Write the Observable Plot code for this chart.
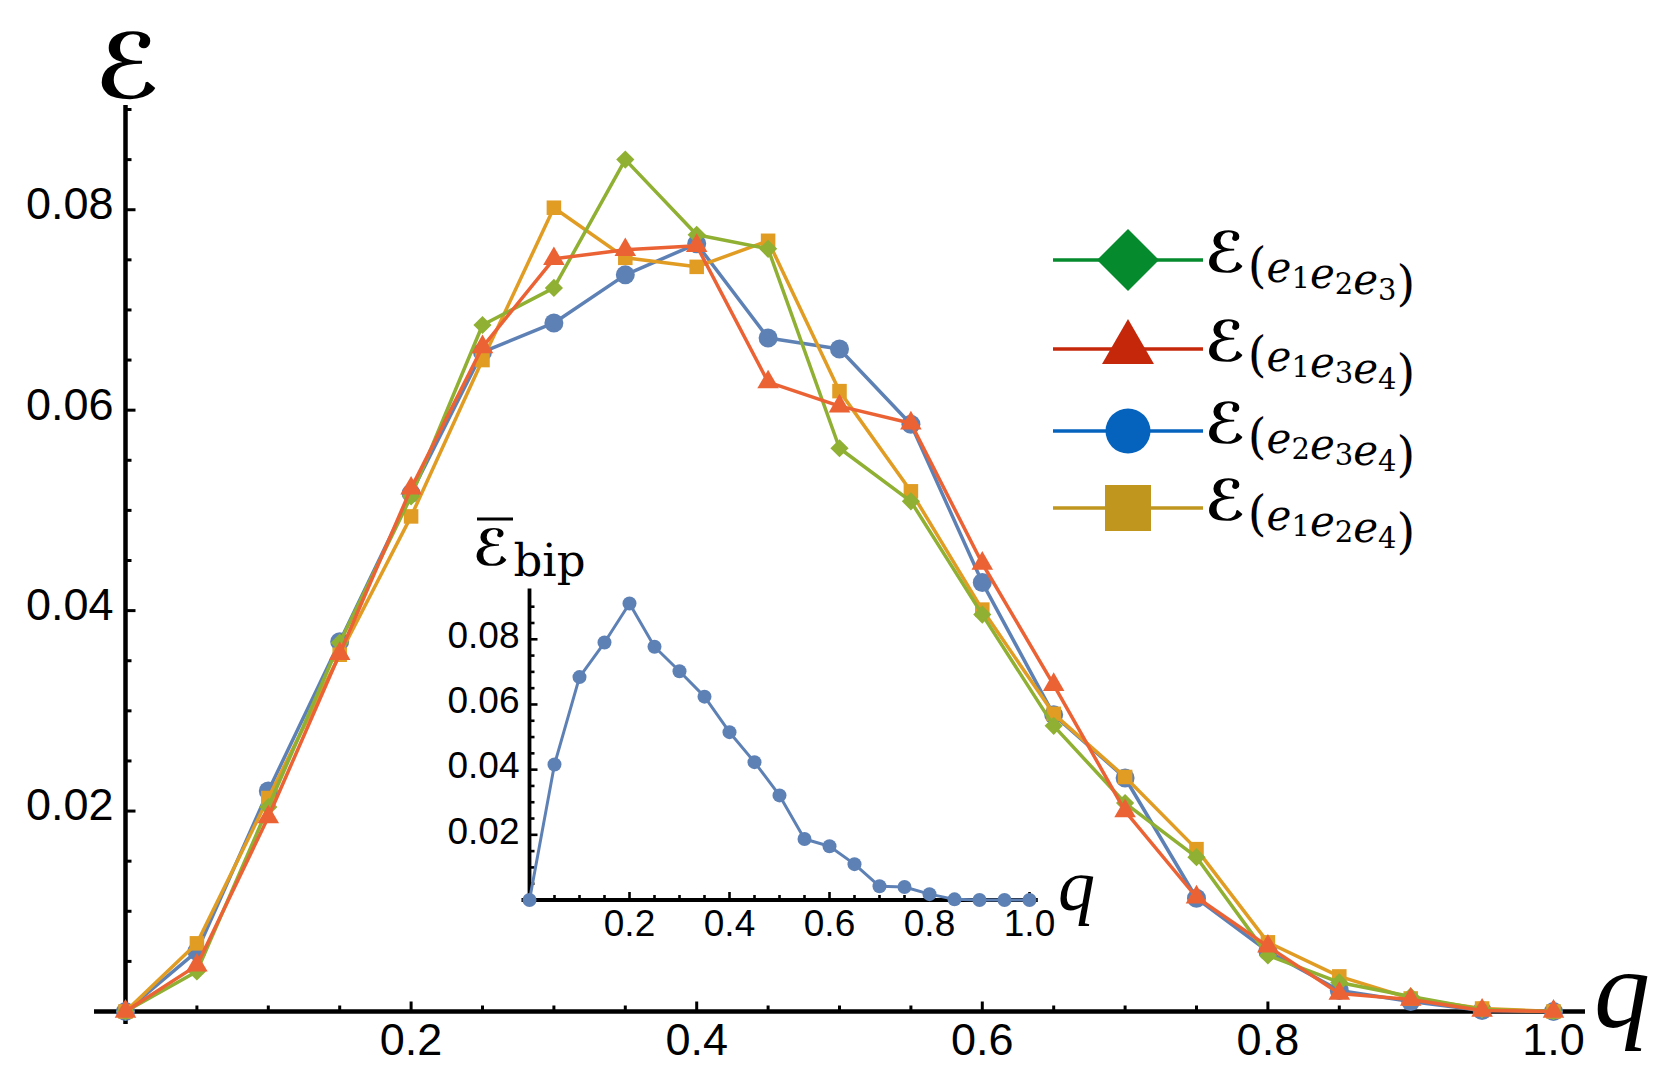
<!DOCTYPE html>
<html><head><meta charset="utf-8">
<script src="https://cdn.jsdelivr.net/npm/d3@7"></script>
<script src="https://cdn.jsdelivr.net/npm/@observablehq/plot@0.6"></script>
<style>
body{margin:0;background:#fff;}
#wrap{position:relative;width:1669px;height:1079px;overflow:hidden;background:#fff;}
#inset{position:absolute;left:400px;top:490px;}
</style></head><body><div id="wrap"><div id="main"></div><div id="inset"></div></div>
<script>
// ---------- data ----------
const qValues = [0,0.05,0.1,0.15,0.2,0.25,0.3,0.35,0.4,0.45,0.5,0.55,0.6,0.65,0.7,0.75,0.8,0.85,0.9,0.95,1.0];
const e123 = [0,0.0040,0.0204,0.0368,0.0514,0.0685,0.0722,0.0850,0.0775,0.0761,0.0562,0.0509,0.0396,0.0285,0.0208,0.0154,0.0056,0.0029,0.0015,0.0002,0];
const e134 = [0,0.0046,0.0194,0.0357,0.0522,0.0663,0.0751,0.0760,0.0764,0.0628,0.0604,0.0587,0.0447,0.0326,0.0200,0.0114,0.0065,0.0018,0.0012,0.0001,0];
const e234 = [0,0.0060,0.0220,0.0369,0.0517,0.0658,0.0687,0.0735,0.0766,0.0672,0.0661,0.0586,0.0428,0.0296,0.0233,0.0113,0.0060,0.0021,0.0010,0.0001,0];
const e124 = [0,0.0068,0.0213,0.0356,0.0494,0.0650,0.0802,0.0752,0.0743,0.0769,0.0619,0.0519,0.0401,0.0297,0.0234,0.0162,0.0069,0.0035,0.0013,0.0003,0];
const bip  = [0,0.0416,0.0684,0.0790,0.0910,0.0777,0.0702,0.0624,0.0515,0.0423,0.0321,0.0187,0.0165,0.0110,0.0042,0.0040,0.0018,0.0002,0,0,0];

const xMajor = [0.2,0.4,0.6,0.8,1.0];
const xMinor = [0.05,0.1,0.15,0.25,0.3,0.35,0.45,0.5,0.55,0.65,0.7,0.75,0.85,0.9,0.95];
const yMajor = [0.02,0.04,0.06,0.08];
const yMinor = [0.005,0.01,0.015,0.025,0.03,0.035,0.045,0.05,0.055,0.065,0.07,0.075,0.085,0.09];
const insetYMinor = [0.005,0.01,0.015,0.025,0.03,0.035,0.045,0.05,0.055,0.065,0.07,0.075,0.085,0.09];

// axis extents (data units)
const mainX = [-0.0217, 1.0224], mainY = [-0.0013, 0.0904];
const insX = [-0.015, 1.0176], insY = [-0.0016, 0.0954];

// ---------- styling ----------
const series = [
  {key:"e234", values:e234, color:"#5E81B5", symbol:"circle",   r:9.5},
  {key:"e124", values:e124, color:"#E19C24", symbol:"square",   r:8.2},
  {key:"e123", values:e123, color:"#8FB032", symbol:"diamond2", r:8.2},
  {key:"e134", values:e134, color:"#EB6235", symbol:"triangle", r:8}
];
const legendItems = [
  {sub:["1","2","3"], color:"#058A2E", sym:d3.symbolDiamond2, size:2450},
  {sub:["1","3","4"], color:"#C4270A", sym:d3.symbolTriangle, size:1169},
  {sub:["2","3","4"], color:"#0563BE", sym:d3.symbolCircle,   size:1590},
  {sub:["1","2","4"], color:"#C1961E", sym:d3.symbolSquare,   size:2116}
];
const legendY = [260, 349, 431, 508];

const tickUp = {draw(ctx, size){const l=Math.sqrt(size/Math.PI); ctx.moveTo(0,0); ctx.lineTo(0,-l);}};
const tickRight = {draw(ctx, size){const l=Math.sqrt(size/Math.PI); ctx.moveTo(0,0); ctx.lineTo(l,0);}};

function axesMarks(o){
  return [
    Plot.ruleY([0], {x1:o.xe[0], x2:o.xe[1], stroke:"black", strokeWidth:o.aw}),
    Plot.ruleX([0], {y1:o.ye[0], y2:o.ye[1], stroke:"black", strokeWidth:o.aw}),
    Plot.dot(xMinor, {x:d=>d, y:0, symbol:tickUp, r:o.minor, stroke:"black", strokeWidth:o.tw, fill:"none"}),
    Plot.dot(xMajor, {x:d=>d, y:0, symbol:tickUp, r:o.major, stroke:"black", strokeWidth:o.tw, fill:"none"}),
    Plot.dot(o.yMinor, {x:0, y:d=>d, symbol:tickRight, r:o.minor, stroke:"black", strokeWidth:o.tw, fill:"none"}),
    Plot.dot(yMajor, {x:0, y:d=>d, symbol:tickRight, r:o.major, stroke:"black", strokeWidth:o.tw, fill:"none"}),
    Plot.axisX({ticks:xMajor, tickSize:0, tickPadding:o.xpad, tickFormat:d3.format(".1f"), fontSize:o.xfs, label:null, fill:"black"}),
    Plot.axisY({ticks:yMajor, tickSize:0, tickPadding:o.ypad, tickFormat:d3.format(".2f"), fontSize:o.yfs, label:null, dy:o.ydy, fill:"black"})
  ];
}

// ---------- main plot ----------
const seriesMarks = series.flatMap(s => {
  const rows = qValues.map((x,i)=>({q:x, v:s.values[i]}));
  return [
    Plot.line(rows, {x:"q", y:"v", stroke:s.color, strokeWidth:3.5}),
    Plot.dot(rows, {x:"q", y:"v", symbol:s.symbol, r:s.r, fill:s.color, stroke:"none"})
  ];
});

const main = Plot.plot({
  width:1669, height:1079,
  marginLeft:125, marginRight:116, marginTop:105, marginBottom:68,
  x:{domain:[0,1]}, y:{domain:[0,0.0904]},
  style:{fontFamily:"'Liberation Sans', Arial, sans-serif", color:"black", background:"transparent", overflow:"visible"},
  marks:[
    ...axesMarks({xe:mainX, ye:mainY, aw:4.5, tw:3, minor:6, major:10, yMinor:yMinor, xpad:12, ypad:12, xfs:45, yfs:45, ydy:-5}),
    ...seriesMarks
  ]
});
document.getElementById("main").appendChild(main);

const svg = d3.select(main);
const scriptFont = "'DejaVu Serif', 'DejaVu Sans', serif";
// axis labels
svg.append("text").attr("x",95).attr("y",98).attr("text-anchor","start")
  .attr("font-family",scriptFont).attr("font-style","italic").attr("font-weight","bold")
  .attr("font-size",90).attr("fill","black").text("ℰ");
svg.append("text").attr("x",1594).attr("y",1027).attr("text-anchor","start")
  .attr("font-family","'Liberation Serif', 'Times New Roman', serif").attr("font-style","italic")
  .attr("font-size",112).attr("fill","black").text("q");

// legend
const leg = svg.append("g");
legendItems.forEach((it,i)=>{
  const y = legendY[i];
  leg.append("line").attr("x1",1053).attr("x2",1203).attr("y1",y).attr("y2",y)
    .attr("stroke",it.color).attr("stroke-width",3.5);
  leg.append("path").attr("transform",`translate(1128,${y})`)
    .attr("d", d3.symbol(it.sym, it.size)()).attr("fill", it.color);
  const t = leg.append("text").attr("x",1205).attr("y",y+12).attr("fill","black")
    .attr("text-anchor","start").attr("font-family",scriptFont);
  t.append("tspan").attr("font-style","italic").attr("font-weight","bold")
    .attr("font-size",56).text("ℰ");
  t.append("tspan").attr("font-size",48).attr("dx",2).attr("dy",10).text("(");
  it.sub.forEach(d=>{
    t.append("tspan").attr("font-size",42).attr("font-style","italic").text("e");
    t.append("tspan").attr("font-size",29).attr("dy",6).text(d);
    t.append("tspan").attr("font-size",42).attr("dy",-6).text("");
  });
  t.append("tspan").attr("font-size",48).text(")");
});

// ---------- inset ----------
const bipRows = qValues.map((x,i)=>({q:x, v:bip[i]}));
const inset = Plot.plot({
  width:720, height:460,
  marginLeft:129, marginRight:91, marginTop:98.6, marginBottom:50.5,
  x:{domain:[0,1]}, y:{domain:[0,0.0954]},
  style:{fontFamily:"'Liberation Sans', Arial, sans-serif", color:"black", background:"transparent", overflow:"visible"},
  marks:[
    ...axesMarks({xe:insX, ye:insY, aw:3.8, tw:2.6, minor:5, major:8, yMinor:insetYMinor, xpad:10, ypad:10, xfs:37, yfs:37, ydy:-3}),
    Plot.line(bipRows, {x:"q", y:"v", stroke:"#5E81B5", strokeWidth:3}),
    Plot.dot(bipRows, {x:"q", y:"v", r:7, fill:"#5E81B5", stroke:"none"})
  ]
});
document.getElementById("inset").appendChild(inset);
const isvg = d3.select(inset);
isvg.append("line").attr("x1",77).attr("x2",113).attr("y1",29).attr("y2",29).attr("stroke","black").attr("stroke-width",3);
const lab = isvg.append("text").attr("x",73).attr("y",75).attr("fill","black").attr("text-anchor","start");
lab.append("tspan").attr("font-family",scriptFont).attr("font-style","italic").attr("font-weight","bold")
  .attr("font-size",50).text("ℰ");
lab.append("tspan").attr("font-family",scriptFont).attr("font-size",45).attr("dx",4).attr("dy",11).text("bip");
isvg.append("text").attr("x",658).attr("y",420).attr("text-anchor","start")
  .attr("font-family","'Liberation Serif', 'Times New Roman', serif").attr("font-style","italic")
  .attr("font-size",74).attr("fill","black").text("q");
</script></body></html>
